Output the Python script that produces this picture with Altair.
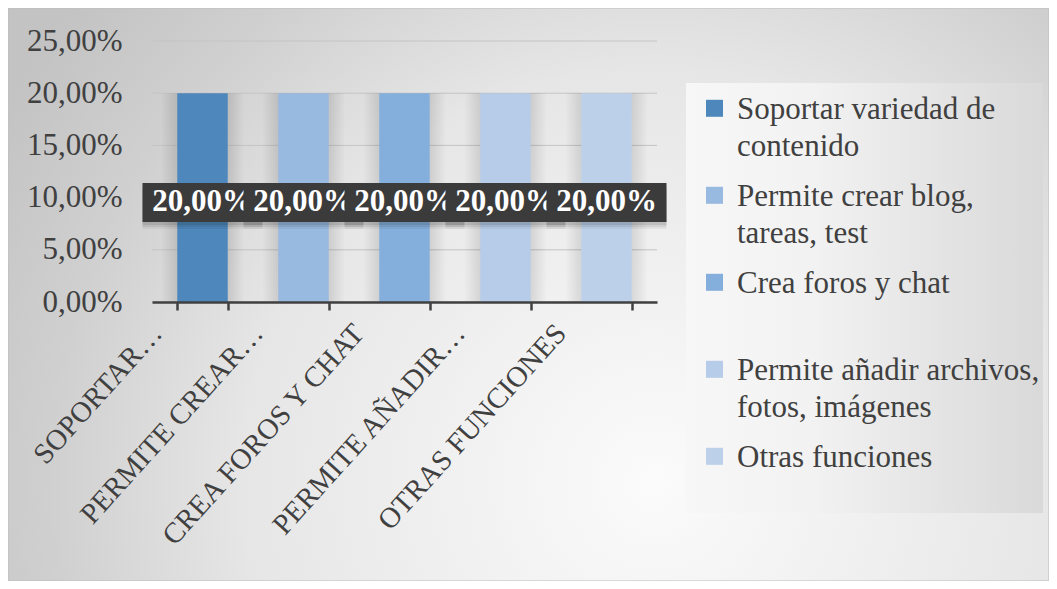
import altair as alt
import pandas as pd

# ---- data ----
series = [
    "Soportar variedad de\ncontenido",
    "Permite crear blog,\ntareas, test",
    "Crea foros y chat",
    "Permite añadir archivos,\nfotos, imágenes",
    "Otras funciones",
]
x_tick_labels = ["SOPORTAR…", "PERMITE CREAR…", "CREA FOROS Y CHAT", "PERMITE AÑADIR…", "OTRAS FUNCIONES"]
values = [0.20, 0.20, 0.20, 0.20, 0.20]
colors = ["#4e87bb", "#98b9e0", "#84aedb", "#b6cce8", "#bcd0e9"]
y_ticks = [0.0, 0.05, 0.10, 0.15, 0.20, 0.25]

df = pd.DataFrame({"cat": x_tick_labels, "serie": series, "value": values})
grid_df = pd.DataFrame({"t": y_ticks})
one = pd.DataFrame({"a": [0]})

FONT = "Liberation Serif"
TXT = "#404040"
W, H = 505, 261

xscale = alt.Scale(domain=x_tick_labels, paddingInner=0.5, paddingOuter=0.25)
yscale = alt.Scale(domain=[0, 0.25])
X = alt.X("cat:N", sort=x_tick_labels, scale=xscale)

bg = alt.Chart(one).mark_rect(
    fill=alt.Gradient(
        gradient="radial",
        stops=[
            alt.GradientStop(color="#fbfbfb", offset=0),
            alt.GradientStop(color="#e6e6e6", offset=0.55),
            alt.GradientStop(color="#d0d0d0", offset=0.8),
            alt.GradientStop(color="#c3c3c3", offset=1),
        ],
        x1=0.62, y1=0.68, r1=0, x2=0.62, y2=0.68, r2=0.72,
    ),
    stroke="#bdbdbd",
    strokeWidth=1,
).encode(x=alt.value(-144), x2=alt.value(897), y=alt.value(-33), y2=alt.value(540))

legend_box = alt.Chart(one).mark_rect(
    fill=alt.Gradient(
        gradient="linear",
        stops=[
            alt.GradientStop(color="#f7f7f7", offset=0),
            alt.GradientStop(color="#f2f2f2", offset=0.35),
            alt.GradientStop(color="#d9d9d9", offset=1),
        ],
        x1=0, y1=0.5, x2=1, y2=0.5,
    ),
).encode(x=alt.value(534), x2=alt.value(891), y=alt.value(42), y2=alt.value(472))

grid = alt.Chart(grid_df).mark_rule(color="#c4c4c4", strokeWidth=1).encode(
    y=alt.Y("t:Q", scale=yscale),
    x=alt.value(0),
    x2=alt.value(W),
)

# soft shadows beside the bars (stacked faint layers)
shadows = [
    alt.Chart(df).mark_bar(color="black", opacity=0.016, width=alt.RelativeBandSize(bw)).encode(
        x=X, y=alt.Y("value:Q", scale=yscale)
    )
    for bw in [1.6, 1.5, 1.4, 1.3, 1.2, 1.1]
]

bars = alt.Chart(df).mark_bar().encode(
    x=alt.X(
        "cat:N",
        sort=x_tick_labels,
        scale=xscale,
        title=None,
        axis=alt.Axis(
            labelAngle=-48,
            labelFont=FONT,
            labelFontSize=29,
            labelColor=TXT,
            labelAlign="right",
            labelBaseline="middle",
            labelPadding=18,
            labelOffset=-46,
            labelLimit=400,
            domainColor=TXT,
            domainWidth=2.5,
            tickColor=TXT,
            tickWidth=2.5,
            tickSize=8,
            tickBand="extent",
            zindex=1,
        ),
    ),
    y=alt.Y(
        "value:Q",
        scale=yscale,
        title=None,
        axis=alt.Axis(
            values=y_ticks,
            labelExpr="replace(format(datum.value, '.2%'), '.', ',')",
            labelFont=FONT,
            labelFontSize=31,
            labelColor=TXT,
            labelPadding=30,
            grid=False,
            domain=False,
            ticks=False,
            tickSize=0,
            zindex=1,
        ),
    ),
    color=alt.Color(
        "serie:N",
        scale=alt.Scale(domain=series, range=colors),
        title=None,
        legend=alt.Legend(
            orient="none",
            legendX=547,
            legendY=62,
            labelExpr="split(datum.label, '\\n')",
            labelFont=FONT,
            labelFontSize=31,
            labelColor=TXT,
            labelLimit=400,
            labelOffset=7,
            labelBaseline="alphabetic",
            symbolType="M-1,-2.2L1,-2.2L1,-0.2L-1,-0.2Z",
            symbolSize=289,
            symbolStrokeWidth=0,
            symbolOpacity=1,
            gridAlign="all",
            rowPadding=18,
            padding=0,
            zindex=1,
        ),
    ),
)

box_shape = "M-1,-0.325L1,-0.325L1,0.325L-1,0.325Z"
lab = alt.Chart(df).transform_calculate(
    mid="datum.value / 2",
    txt="replace(format(datum.value, '.2%'), '.', ',')",
)
box_shadows = [
    lab.mark_point(shape=box_shape, size=14400, filled=True, fill="black",
                   opacity=op, strokeWidth=0, yOffset=yo).encode(
        x=X, y=alt.Y("mid:Q", scale=yscale))
    for yo, op in [(12, 0.05), (10, 0.07), (8, 0.09)]
]

label_layers = []
for c in x_tick_labels:
    sub = lab.transform_filter(alt.datum.cat == c)
    box = sub.mark_point(
        shape=box_shape,
        size=14400,
        filled=True,
        fill="#3b3b3b",
        opacity=1,
        strokeWidth=0,
        yOffset=5,
    ).encode(x=X, y=alt.Y("mid:Q", scale=yscale))
    txt = sub.mark_text(
        font=FONT,
        fontSize=31,
        fontWeight="bold",
        color="white",
        baseline="middle",
        dy=4,
    ).encode(x=X, y=alt.Y("mid:Q", scale=yscale), text="txt:N")
    label_layers += [box, txt]

chart = alt.layer(bg, legend_box, grid, *shadows, bars, *box_shadows, *label_layers).properties(
    width=W,
    height=H,
    autosize=alt.AutoSizeParams(type="none"),
    padding={"left": 144, "top": 33, "right": 392, "bottom": 279},
).configure_view(stroke=None, fill=None).configure(
    background="white",
    style={"guide-label": {"lineHeight": 37}},
)

chart.save("out.html", embed_options={"renderer": "svg", "actions": False})
